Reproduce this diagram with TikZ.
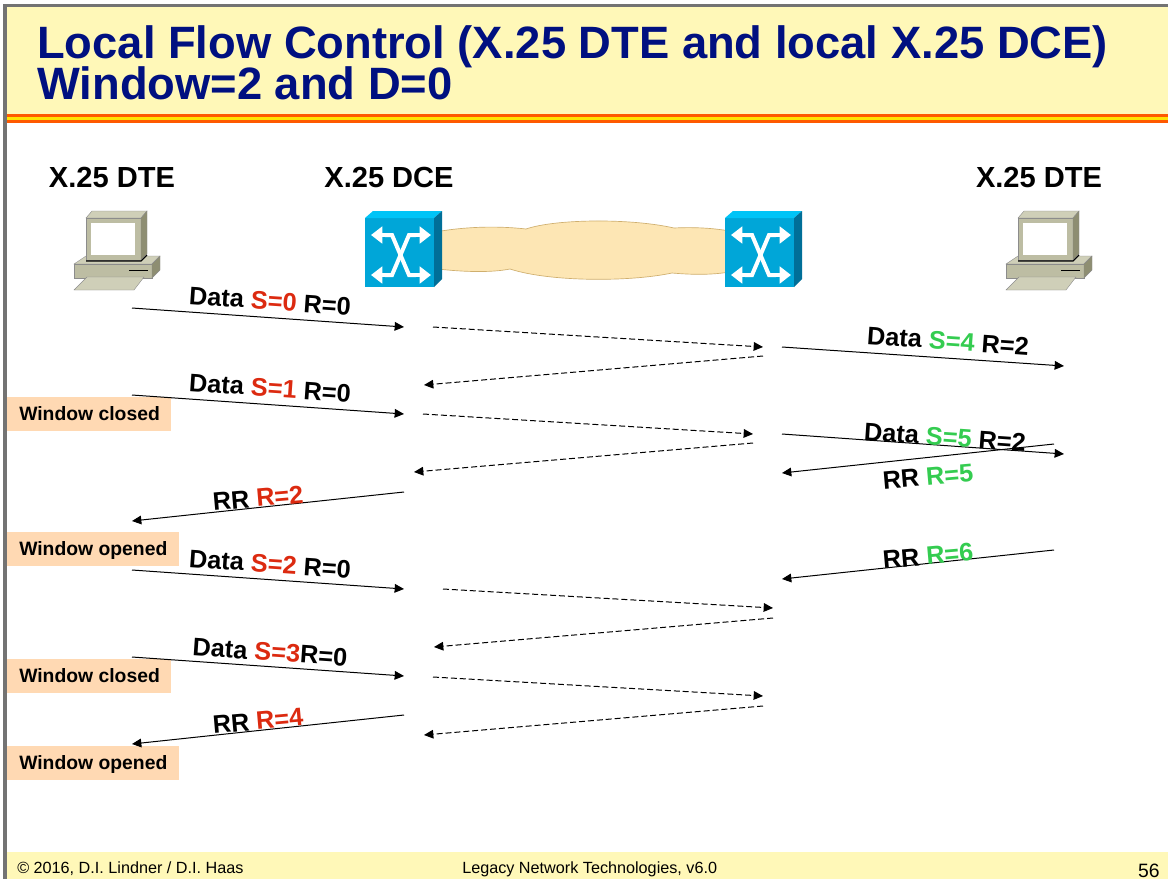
\documentclass[tikz,border=0pt]{standalone}
\usepackage{fontspec}
\setmainfont{Liberation Sans}
\usetikzlibrary{arrows.meta}
\definecolor{bary}{HTML}{FFF8B8}
\definecolor{navy}{HTML}{001080}
\definecolor{redt}{HTML}{DC2A10}
\definecolor{grnt}{HTML}{34CC50}
\definecolor{peach}{HTML}{FFD9B3}
\definecolor{cloudc}{HTML}{FDE6B4}
\definecolor{cloude}{HTML}{CFAF6E}
\definecolor{pcf}{HTML}{BDBDA3}
\definecolor{pct}{HTML}{CFCFB8}
\definecolor{pcs}{HTML}{8E8E72}
\definecolor{swf}{HTML}{00A6D8}
\definecolor{swt}{HTML}{00C4F7}
\definecolor{sws}{HTML}{006F98}
\newcommand{\rt}[1]{\textcolor{redt}{#1}}
\newcommand{\gt}[1]{\textcolor{grnt}{#1}}
\newcommand{\winlabel}[2]{\makebox[#1][l]{\hspace*{9pt}\raisebox{-4.5pt}[0pt][0pt]{#2}}}
\tikzset{
  x=0.75pt,y=-0.75pt,
  solidarrow/.style={draw=black,line width=0.75pt,-{Triangle[length=7pt,width=6.5pt]}},
  dasharrow/.style={draw=black,line width=0.75pt,dash pattern=on 4.5pt off 2.2pt,-{Triangle[length=7pt,width=6.5pt]}},
  msg/.style={font=\fontsize{19}{19}\selectfont\bfseries,inner sep=0pt,text=black},
  head/.style={font=\fontsize{21.8}{21.8}\selectfont\bfseries,inner sep=0pt,text=black},
  winbox/.style={fill=peach,font=\fontsize{14.5}{14.5}\selectfont\bfseries,inner sep=0pt,anchor=north west,text=black,minimum height=25.5pt},
  foot/.style={font=\fontsize{12.15}{12.15}\selectfont,inner sep=0pt,text=black},
  ttl/.style={anchor=base west,inner sep=0pt,text=navy,font=\fontsize{34}{34}\selectfont\bfseries},
  pcpart/.style={draw=black!45,line width=0.3pt},
  pics/pc/.style={code={
    \filldraw[fill=pct,pcpart] (74,264)--(86,256)--(160,256)--(152,264)--cycle;
    \filldraw[fill=pcf,pcpart] (74,264) rectangle (152,278);
    \filldraw[fill=pcs,pcpart] (152,264)--(160,256)--(160,270)--(152,278)--cycle;
    \filldraw[fill=pct,pcpart] (74,290)--(87,277)--(144,277)--(134,290)--cycle;
    \filldraw[fill=pct,pcpart] (86,218)--(92,211)--(147,211)--(141,218)--cycle;
    \filldraw[fill=pcf,pcpart] (86,218) rectangle (141,260);
    \filldraw[fill=pcs,pcpart] (141,218)--(147,211)--(147,254)--(141,260)--cycle;
    \fill[white] (91,223) rectangle (135,255);
    \draw[black,line width=0.8pt] (86,261)--(141,261)--(147,255);
    \draw[black,line width=0.6pt] (129,270)--(148,270);
  }},
  pics/sw/.style={code={
    \fill[swf] (365,218) rectangle (434,287);
    \fill[swt] (365,218)--(373,211)--(442,211)--(434,218)--cycle;
    \fill[sws] (434,218)--(442,211)--(442,279)--(434,287)--cycle;
    \begin{scope}[line width=3pt,white,line join=miter]
      \draw[-{Triangle[length=8.5pt,width=12.5pt]}] (392,235)--(371,235);
      \draw[-{Triangle[length=8.5pt,width=12.5pt]}] (408,235)--(431,235);
      \draw[-{Triangle[length=8.5pt,width=12.5pt]}] (392,275)--(371,275);
      \draw[-{Triangle[length=8.5pt,width=12.5pt]}] (408,275)--(431,275);
      \draw (385,235)--(392,235)--(409,275)--(416,275);
      \draw (416,235)--(409,235)--(392,275)--(385,275);
    \end{scope}
  }},
}
\newcommand{\msgarrow}[6]{%
  \coordinate (#1s) at (#3,#4);
  \coordinate (#1e) at (#5,#6);
  \draw[#2] (#1s) -- (#1e);}
\begin{document}
\begin{tikzpicture}
\useasboundingbox (0,0) rectangle (1168,879);
\fill[white] (0,0) rectangle (1168,879);
% frame
\fill[black!55] (3,4) rectangle (1168,7);
\fill[black!55] (3,4) rectangle (7,879);
% title bar
\fill[bary] (7,7) rectangle (1168,114);
\fill[orange!70!red] (7,114) rectangle (1168,123);
\fill[yellow!85!orange] (7,117) rectangle (1168,120);
\node[ttl] (t1) at (37,58) {Local Flow Control (X.25 DTE and local X.25 DCE)};
\node[ttl] (t2) at (37,99) {Window=2 and D=0};
% footer
\fill[bary] (7,852) rectangle (1168,879);
\node[foot,anchor=base west] (f1) at (17,873) {© 2016, D.I. Lindner / D.I. Haas};
\node[foot,anchor=base west] (f2) at (462,873) {Legacy Network Technologies, v6.0};
\node[anchor=base east,inner sep=0pt,font=\fontsize{14.5}{14.5}\selectfont] (f3) at (1160,877) {56};
% heads
\node[head] (h1) at (112,177) {X.25 DTE};
\node[head] (h2) at (389,177) {X.25 DCE};
\node[head] (h3) at (1039,177) {X.25 DTE};
% cloud
\filldraw[fill=cloudc,draw=cloude,line width=0.5pt]
  (430,233) .. controls (465,226) and (500,226) .. (526,229)
  .. controls (555,219) and (630,218) .. (674,228)
  .. controls (695,227) and (715,228) .. (735,232)
  -- (735,271) .. controls (715,275) and (695,275) .. (672,273)
  .. controls (630,282) and (550,282) .. (510,269)
  .. controls (490,273) and (460,272) .. (430,268) -- cycle;
% devices
\pic at (0,0) {pc};
\pic at (932,0) {pc};
\pic at (0,0) {sw};
\pic at (360,0) {sw};
% window boxes
\node[winbox] (w1) at (7,397) {\winlabel{123pt}{Window closed}};
\node[winbox] (w2) at (7,532) {\winlabel{129pt}{Window opened}};
\node[winbox] (w3) at (7,659) {\winlabel{123pt}{Window closed}};
\node[winbox] (w4) at (7,746) {\winlabel{129pt}{Window opened}};
% arrows
\msgarrow{a1}{solidarrow}{132}{308}{404}{327}
\msgarrow{a2}{dasharrow}{433}{327}{763}{347}
\msgarrow{a3}{dasharrow}{763}{356}{424}{385}
\msgarrow{a4}{solidarrow}{782}{347}{1064}{366}
\msgarrow{a5}{solidarrow}{132}{395}{404}{414}
\msgarrow{a6}{dasharrow}{423}{414}{753}{434}
\msgarrow{a7}{dasharrow}{753}{443}{414}{472}
\msgarrow{a8}{solidarrow}{782}{434}{1064}{454}
\msgarrow{a9}{solidarrow}{1054}{444}{782}{473}
\msgarrow{a10}{solidarrow}{404}{492}{132}{521}
\msgarrow{a11}{solidarrow}{132}{570}{404}{589}
\msgarrow{a12}{dasharrow}{443}{589}{773}{608}
\msgarrow{a13}{dasharrow}{773}{618}{434}{647}
\msgarrow{a14}{solidarrow}{1054}{550}{782}{579}
\msgarrow{a15}{solidarrow}{132}{657}{404}{676}
\msgarrow{a16}{dasharrow}{433}{677}{763}{696}
\msgarrow{a17}{dasharrow}{763}{706}{424}{735}
\msgarrow{a18}{solidarrow}{404}{715}{132}{744}
% labels
\node[msg,rotate=-4] (l1) at (270,301) {Data \rt{S=0} R=0};
\node[msg,rotate=-4] (l2) at (948,341) {Data \gt{S=4} R=2};
\node[msg,rotate=-4] (l3) at (270,388) {Data \rt{S=1} R=0};
\node[msg,rotate=-4] (l4) at (945,437) {Data \gt{S=5} R=2};
\node[msg,rotate=5] (l5) at (928,477) {RR \gt{R=5}};
\node[msg,rotate=5] (l6) at (258,498) {RR \rt{R=2}};
\node[msg,rotate=-4] (l7) at (270,564) {Data \rt{S=2} R=0};
\node[msg,rotate=5] (l8) at (928,556) {RR \gt{R=6}};
\node[msg,rotate=-4] (l9) at (270,652) {Data \rt{S=3}R=0};
\node[msg,rotate=5] (l10) at (258,721) {RR \rt{R=4}};
\end{tikzpicture}
\end{document}
